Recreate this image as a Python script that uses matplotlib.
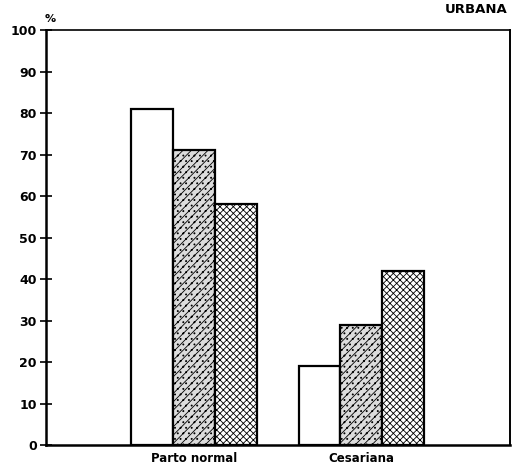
import numpy as np
import matplotlib.pyplot as plt

plt.rcParams['hatch.linewidth'] = 0.6

grupos = ["Parto normal", "Cesariana"]
serie1 = [81, 19]
serie2 = [71, 29]
serie3 = [58, 42]
yticks = [0, 10, 20, 30, 40, 50, 60, 70, 80, 90, 100]

fig = plt.figure(figsize=(5.13, 4.70), dpi=100)
ax = fig.add_axes([0.0897, 0.053, 0.9043, 0.883])

x = np.arange(len(grupos))
w = 0.25
estilo = dict(edgecolor='black', linewidth=1.6, zorder=3)
ax.bar(x - w, serie1, w, facecolor='white', **estilo)
ax.bar(x, serie2, w, facecolor='#dcdcdc', hatch='////...', **estilo)
ax.bar(x + w, serie3, w, facecolor='white', hatch='xxxxx', **estilo)

ax.set_xlim(-0.884, 1.887)
ax.set_ylim(0, 100)
ax.set_yticks(yticks)
ax.set_xticks(x)
ax.set_xticklabels(grupos, fontsize=8.5, fontweight='bold')
ax.tick_params(axis='x', length=0, pad=5)
ax.tick_params(axis='y', direction='inout', length=9, width=1.2, labelsize=9, pad=2)
for t in ax.get_yticklabels():
    t.set_fontweight('bold')

ax.spines['left'].set_linewidth(1.8)
ax.spines['bottom'].set_linewidth(1.8)
ax.spines['top'].set_linewidth(1.2)
ax.spines['right'].set_linewidth(1.4)

fig.text(0.097, 0.95, "%", fontsize=8, fontweight='bold', ha='center', va='bottom')
fig.text(0.99, 0.965, "URBANA", fontsize=9.5, fontweight='bold', ha='right', va='bottom')

fig.savefig("out.png", dpi=100)
